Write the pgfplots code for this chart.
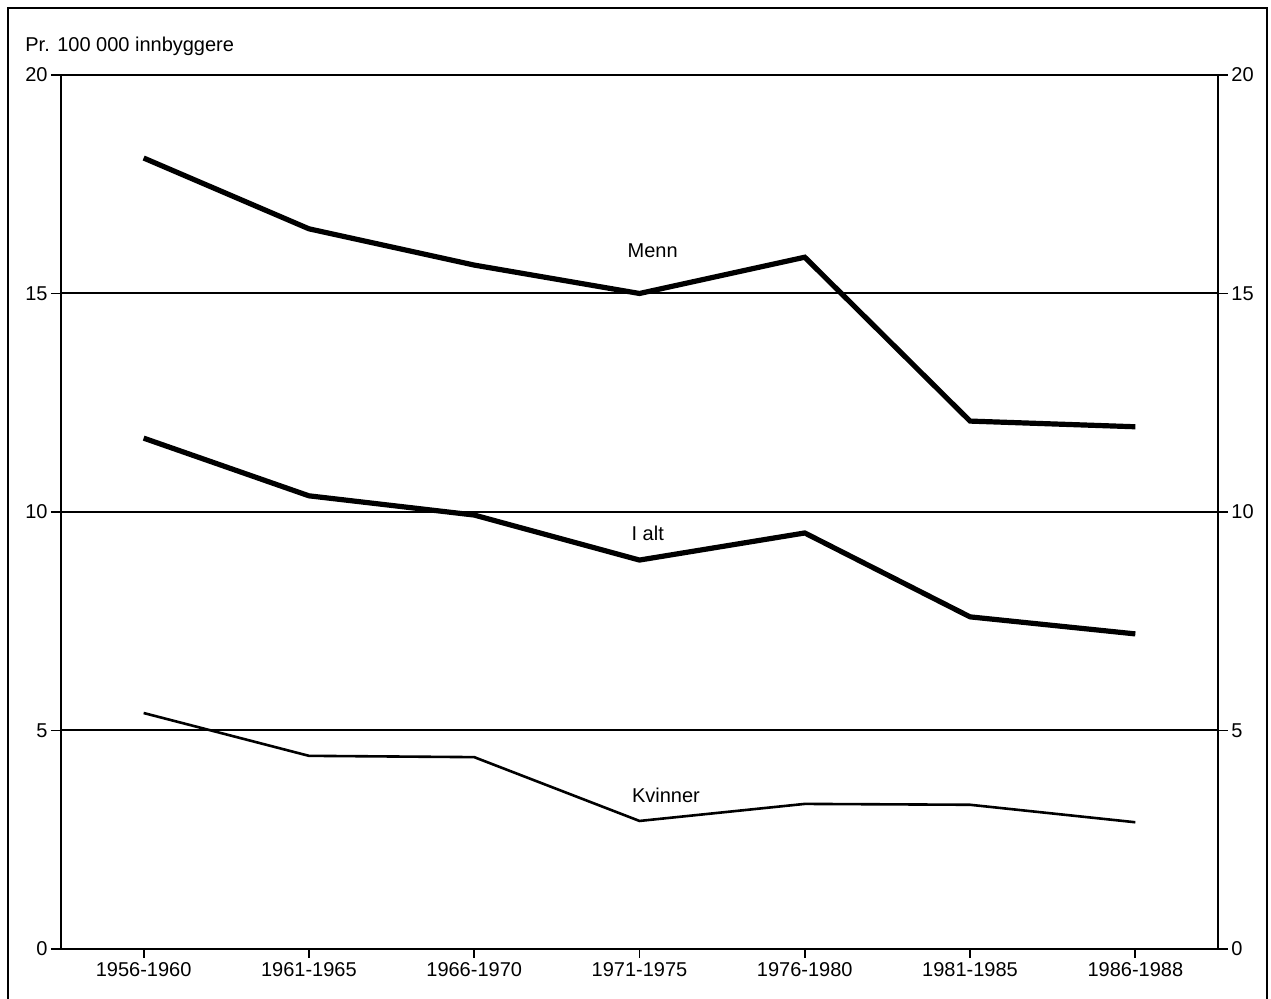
\documentclass[border=0pt]{standalone}
\usepackage{fontspec}
\setmainfont{Liberation Sans}
\usepackage{pgfplots}
\pgfplotsset{compat=1.18}
\begin{document}
\fontsize{10}{12}\selectfont
\begin{tikzpicture}
\pgfplotsset{
  common/.style={
    at={(30.5pt,25pt)}, anchor=south west,
    scale only axis, width=578.5pt, height=437pt,
    xmin=-0.5, xmax=6.5, ymin=0, ymax=20,
    ytick={0,5,10,15,20},
    tick align=outside,
    major tick length=5pt,
    tick style={line width=0.9pt, black},
    axis line style={line width=1.2pt},
    /pgf/number format/assume math mode=true,
    tick label style={font=\fontsize{10}{12}\selectfont},
    yticklabel style={inner sep=1.5pt},
  }
}
\begin{axis}[common,
    xtick={0,...,6},
    xticklabels={1956-1960,1961-1965,1966-1970,1971-1975,1976-1980,1981-1985,1986-1988},
    xtick pos=left,
    xtick style={/pgfplots/major tick length=4.5pt},
    xticklabel style={inner sep=1.5pt},
    ytick pos=both,
    yticklabel pos=left,
    ymajorgrids,
    grid style={line width=1pt, black},
  ]
\addplot[black, line width=2.6pt] coordinates {(0,18.1) (1,16.48) (2,15.65) (3,15.0) (4,15.83) (5,12.08) (6,11.95)};
\addplot[black, line width=2.6pt] coordinates {(0,11.69) (1,10.37) (2,9.93) (3,8.9) (4,9.52) (5,7.6) (6,7.21)};
\addplot[black, line width=1.3pt] coordinates {(0,5.4) (1,4.42) (2,4.39) (3,2.93) (4,3.32) (5,3.3) (6,2.9)};
\node at (axis cs:3.08,15.97) {Menn};
\node at (axis cs:3.05,9.52) {I alt};
\node at (axis cs:3.16,3.52) {Kvinner};
\end{axis}
\begin{axis}[common,
    xtick=\empty,
    ytick pos=right,
    yticklabel pos=right,
  ]
\end{axis}
\pgfresetboundingbox
\path[use as bounding box] (0,0) rectangle (635.5pt,499.5pt);
\draw[line width=1pt] (4pt,-2pt) -- (4pt,495.5pt) -- (633.5pt,495.5pt) -- (633.5pt,-2pt);
\node[anchor=base west, inner sep=0pt] at (12.5pt,473.5pt) {Pr. 100 000 innbyggere};
\end{tikzpicture}
\end{document}
